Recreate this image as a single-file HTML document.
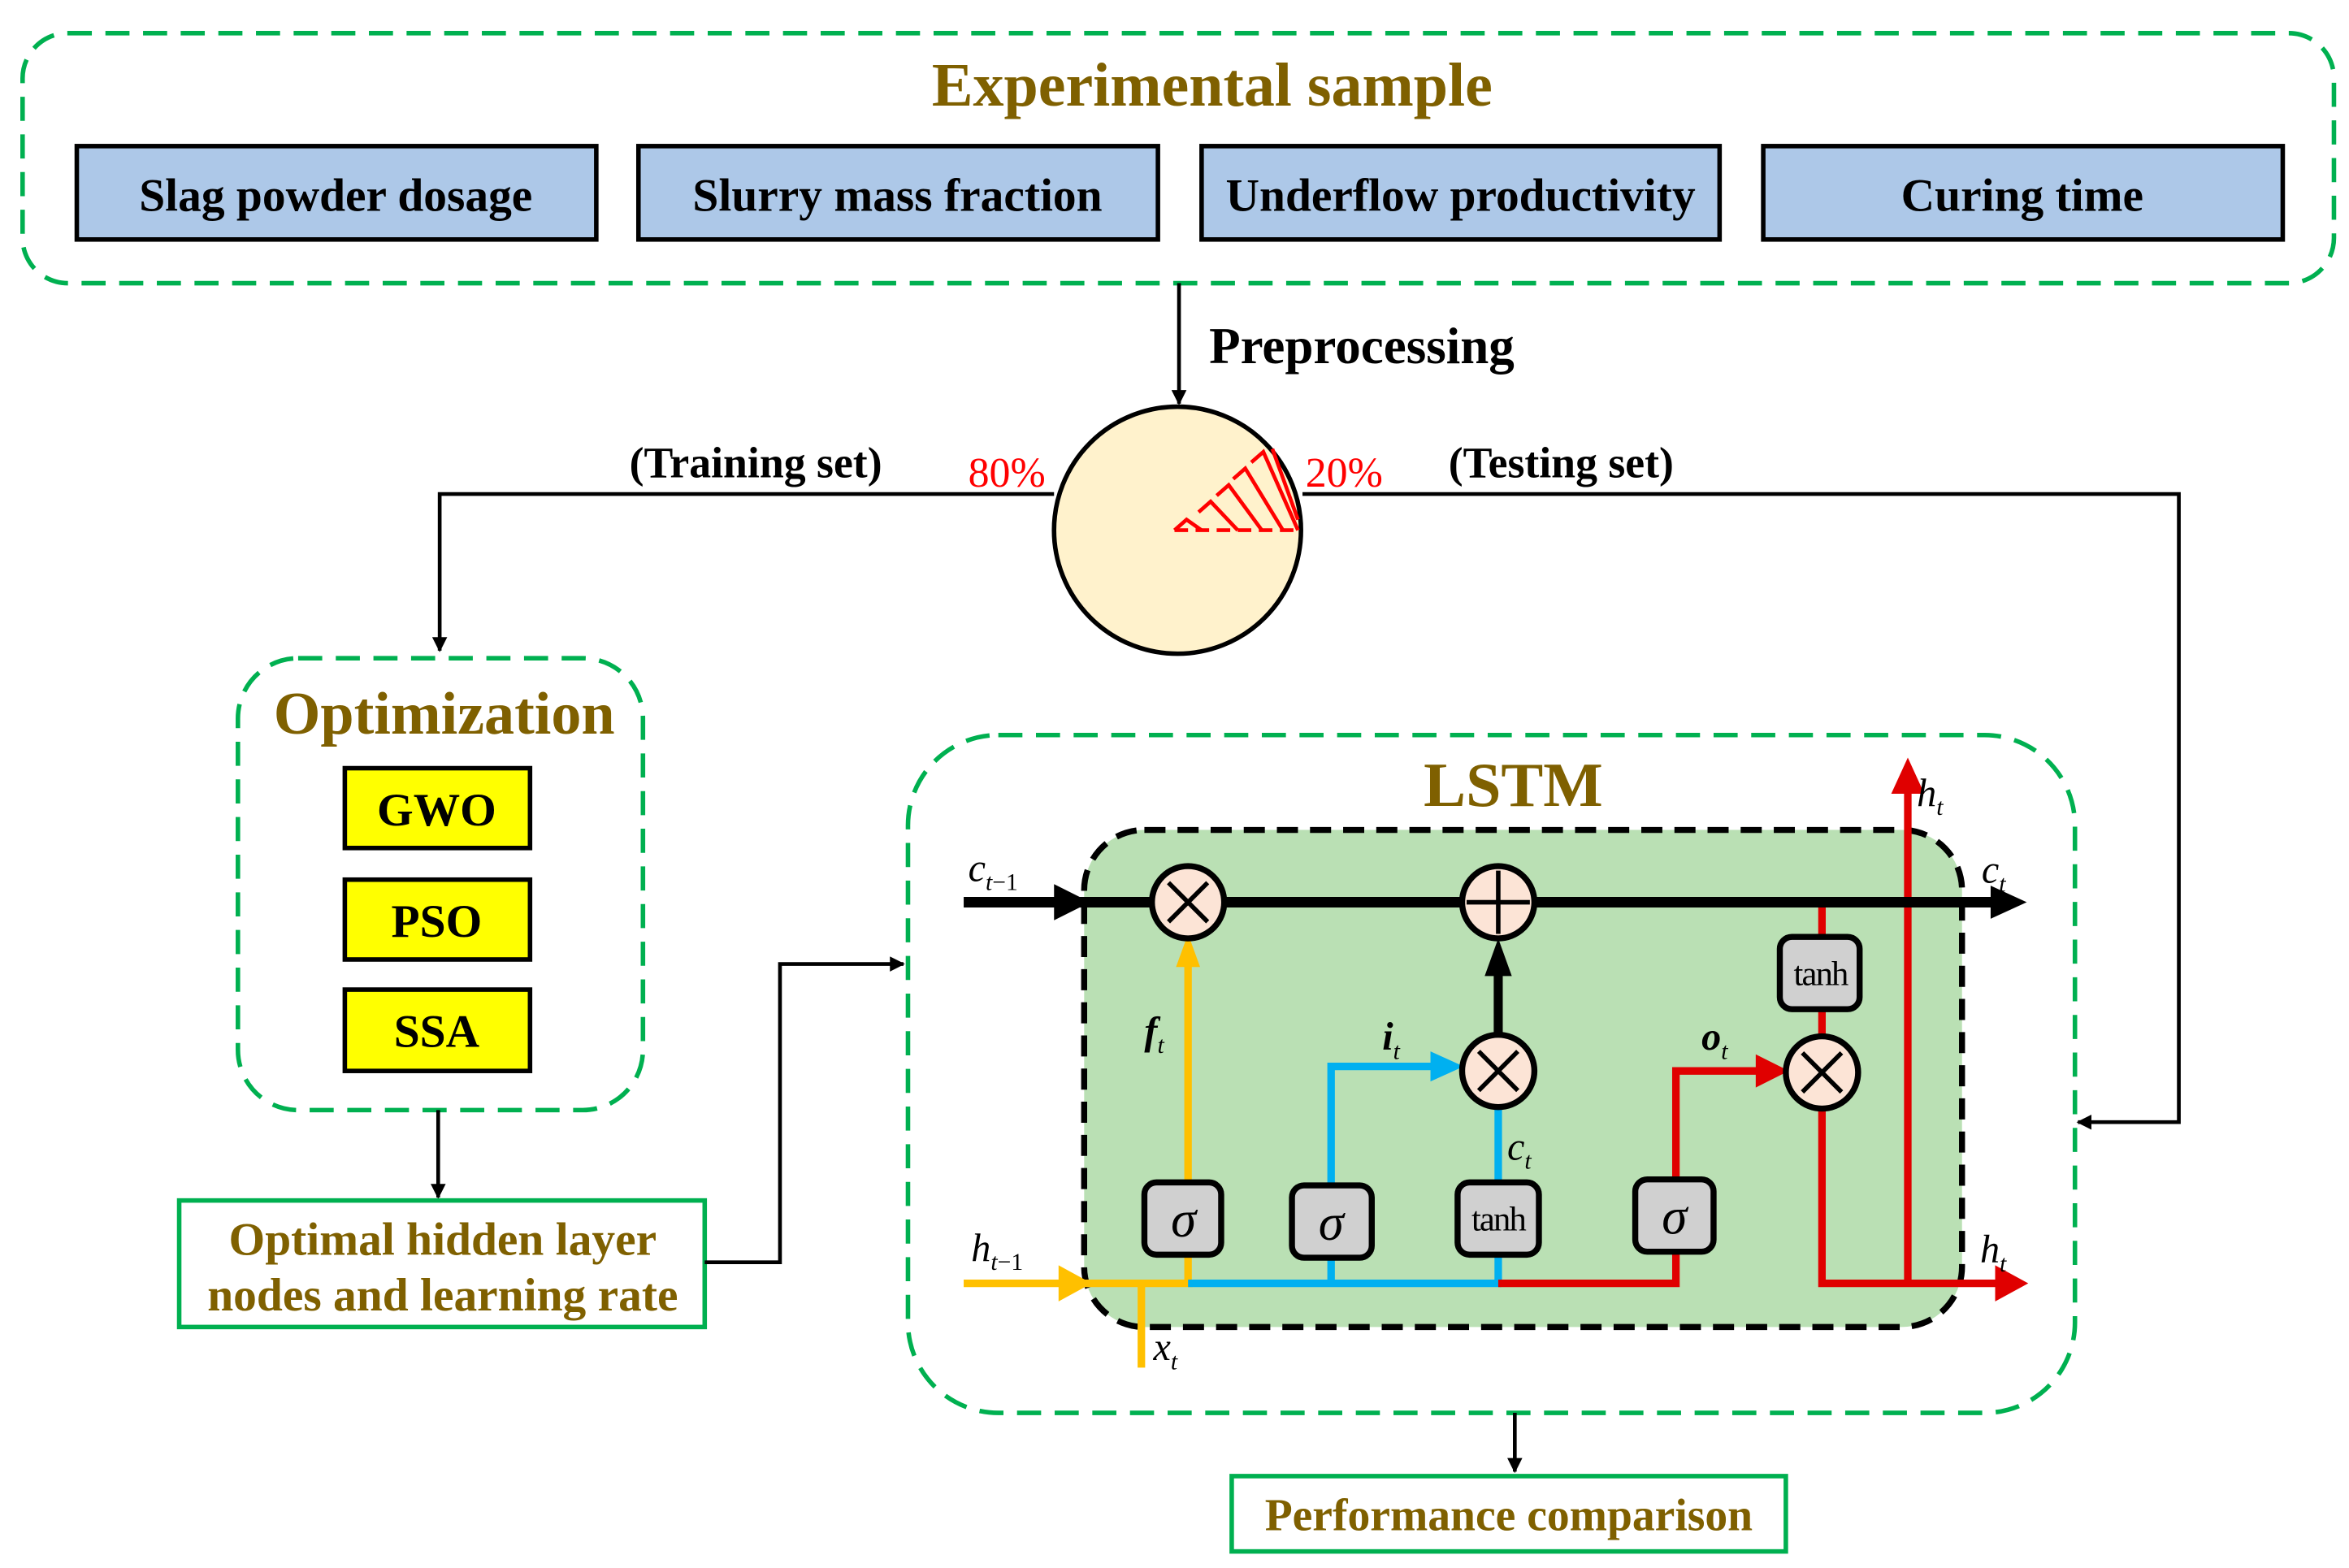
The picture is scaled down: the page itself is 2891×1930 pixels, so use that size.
<!DOCTYPE html>
<html><head><meta charset="utf-8"><style>html,body{margin:0;padding:0;background:#fff}svg{display:block}text{font-family:"Liberation Serif","Times New Roman",serif}</style></head>
<body>
<svg width="2891" height="1930" viewBox="0 0 1560 1041" preserveAspectRatio="none" xmlns="http://www.w3.org/2000/svg">
<defs>
<marker id="ab" markerWidth="10" markerHeight="10" refX="9" refY="5" orient="auto" markerUnits="userSpaceOnUse"><path d="M0,0 L10,5 L0,10z" fill="#000"/></marker>
</defs>
<rect x="15" y="22" width="1535" height="166" rx="30" fill="none" stroke="#00B050" stroke-width="3" stroke-dasharray="16,9"/>
<text x="805" y="70" font-size="41" font-weight="bold" fill="#7F6000" text-anchor="middle">Experimental sample</text>
<g stroke="#000" stroke-width="3" fill="#ADC8E8">
<rect x="51" y="97" width="345" height="62"/><rect x="424" y="97" width="345" height="62"/>
<rect x="798" y="97" width="344" height="62"/><rect x="1171" y="97" width="345" height="62"/>
</g>
<g font-size="31" font-weight="bold" text-anchor="middle">
<text x="223" y="140">Slag powder dosage</text><text x="596" y="140">Slurry mass fraction</text>
<text x="970" y="140">Underflow productivity</text><text x="1343" y="140">Curing time</text>
</g>
<line x1="783" y1="188" x2="783" y2="268" stroke="#000" stroke-width="2.5" marker-end="url(#ab)"/>
<text x="803" y="241" font-size="34" font-weight="bold">Preprocessing</text>
<circle cx="782" cy="352" r="82" fill="#FFF2CC" stroke="#000" stroke-width="3"/>
<g stroke="#FF0000" stroke-width="2.5" fill="none">
<line x1="780" y1="352" x2="864" y2="352" stroke-dasharray="9,5"/>
<polyline points="780,352 788,345 798,352"/><polyline points="796,340 804,333 822,352"/>
<polyline points="808,329 816,322 838,352"/><polyline points="819,318 827,311 852,352"/>
<polyline points="831,307 839,300 862,352"/><line x1="845" y1="298" x2="862" y2="345"/>
</g>
<polyline points="700,328 292,328 292,432" fill="none" stroke="#000" stroke-width="2.5" marker-end="url(#ab)"/>
<polyline points="865,328 1447,328 1447,745 1380,745" fill="none" stroke="#000" stroke-width="2.5" marker-end="url(#ab)"/>
<text x="418" y="317" font-size="29" font-weight="bold">(Training set)</text>
<text x="643" y="323" font-size="28" fill="#FF0000">80%</text>
<text x="867" y="323" font-size="28" fill="#FF0000">20%</text>
<text x="962" y="317" font-size="29" font-weight="bold">(Testing set)</text>
<rect x="158" y="437" width="269" height="300" rx="40" fill="none" stroke="#00B050" stroke-width="3" stroke-dasharray="16,9"/>
<text x="295" y="487" font-size="40" font-weight="bold" fill="#7F6000" text-anchor="middle">Optimization</text>
<g stroke="#000" stroke-width="3" fill="#FFFF00">
<rect x="229" y="510" width="123" height="53"/><rect x="229" y="584" width="123" height="53"/><rect x="229" y="657" width="123" height="54"/>
</g>
<g font-size="31" font-weight="bold" text-anchor="middle">
<text x="290" y="548">GWO</text><text x="290" y="622">PSO</text><text x="290" y="695">SSA</text>
</g>
<line x1="291" y1="737" x2="291" y2="795" stroke="#000" stroke-width="2.5" marker-end="url(#ab)"/>
<rect x="119" y="797" width="349" height="84" fill="#fff" stroke="#00B050" stroke-width="3"/>
<g font-size="31" font-weight="bold" fill="#7F6000" text-anchor="middle">
<text x="294" y="833">Optimal hidden layer</text><text x="294" y="870">nodes and learning rate</text>
</g>
<polyline points="468,838 518,838 518,640 600,640" fill="none" stroke="#000" stroke-width="2.5" marker-end="url(#ab)"/>
<rect x="603" y="488" width="775" height="450" rx="60" fill="none" stroke="#00B050" stroke-width="3" stroke-dasharray="16,9"/>
<text x="1005" y="535" font-size="42" font-weight="bold" fill="#7F6000" text-anchor="middle">LSTM</text>
<rect x="720" y="551" width="583" height="330" rx="40" fill="#BAE0B4" stroke="#000" stroke-width="4" stroke-dasharray="14,8"/>
<g stroke="#FFC000" stroke-width="5" fill="none">
<line x1="640" y1="852" x2="705" y2="852"/><line x1="720" y1="852" x2="792" y2="852"/>
<line x1="789" y1="852" x2="789" y2="640"/><line x1="758" y1="852" x2="758" y2="908"/>
</g>
<path d="M703,840 L725,852 L703,864z" fill="#FFC000"/>
<path d="M781,642 L789,620 L797,642z" fill="#FFC000"/>
<g stroke="#00B0F0" stroke-width="5" fill="none">
<line x1="789" y1="852" x2="997" y2="852"/><polyline points="884,852 884,708 952,708"/>
<line x1="995" y1="852" x2="995" y2="735"/>
</g>
<path d="M950,698 L972,708 L950,718z" fill="#00B0F0"/>
<g stroke="#E00000" stroke-width="5" fill="none">
<polyline points="995,852 1113,852 1113,711 1168,711"/>
<polyline points="1210,601 1210,852 1328,852"/>
<line x1="1267" y1="852" x2="1267" y2="525"/>
</g>
<path d="M1166,700 L1188,711 L1166,722z" fill="#E00000"/>
<path d="M1325,840 L1347,852 L1325,864z" fill="#E00000"/>
<path d="M1256,527 L1267,503 L1278,527z" fill="#E00000"/>
<line x1="640" y1="599" x2="1325" y2="599" stroke="#000" stroke-width="7"/>
<path d="M700,587 L724,599 L700,611z" fill="#000"/>
<path d="M1322,588 L1346,599 L1322,610z" fill="#000"/>
<line x1="995" y1="688" x2="995" y2="645" stroke="#000" stroke-width="6"/>
<path d="M986,648 L995,623 L1004,648z" fill="#000"/>
<g fill="#D0D0D0" stroke="#000" stroke-width="4">
<rect x="760" y="785" width="51" height="48" rx="8"/><rect x="858" y="787" width="53" height="48" rx="8"/>
<rect x="968" y="785" width="54" height="48" rx="8"/><rect x="1086" y="783" width="52" height="48" rx="8"/>
<rect x="1182" y="622" width="53" height="48" rx="8"/>
</g>
<g font-size="34" font-style="italic" text-anchor="middle">
<text x="786" y="821">σ</text><text x="884" y="823">σ</text><text x="1112" y="819">σ</text>
</g>
<g font-size="23" text-anchor="middle" letter-spacing="-1"><text x="995" y="817">tanh</text><text x="1209" y="654">tanh</text></g>
<g fill="#FCE4D6" stroke="#000" stroke-width="4">
<circle cx="789" cy="599" r="24"/><circle cx="995" cy="599" r="24"/><circle cx="995" cy="711" r="24"/><circle cx="1210" cy="712" r="24"/>
</g>
<g stroke="#000" stroke-width="3">
<path d="M776,586 L802,612 M802,586 L776,612"/>
<path d="M995,578 V620 M974,599 H1016"/>
<path d="M982,698 L1008,724 M1008,698 L982,724"/>
<path d="M1197,699 L1223,725 M1223,699 L1197,725"/>
</g>
<g font-style="italic" font-size="26">
<text x="643" y="585">c<tspan font-size="16" dy="6">t</tspan><tspan font-size="16" font-style="normal">−1</tspan></text>
<text x="645" y="837">h<tspan font-size="16" dy="6">t</tspan><tspan font-size="16" font-style="normal">−1</tspan></text>
<text x="766" y="903">x<tspan font-size="16" dy="6">t</tspan></text>
<text x="760" y="693" font-weight="bold">f<tspan font-size="16" dy="6" font-weight="normal">t</tspan></text>
<text x="918" y="697" font-weight="bold">i<tspan font-size="16" dy="6" font-weight="normal">t</tspan></text>
<text x="1001" y="770">c<tspan font-size="16" dy="6">t</tspan></text>
<text x="1130" y="697" font-weight="bold">o<tspan font-size="16" dy="6" font-weight="normal">t</tspan></text>
<text x="1273" y="535">h<tspan font-size="16" dy="6">t</tspan></text>
<text x="1316" y="586">c<tspan font-size="16" dy="6">t</tspan></text>
<text x="1315" y="838">h<tspan font-size="16" dy="6">t</tspan></text>
</g>
<line x1="1006" y1="938" x2="1006" y2="977" stroke="#000" stroke-width="2.5" marker-end="url(#ab)"/>
<rect x="818" y="980" width="368" height="50" fill="#fff" stroke="#00B050" stroke-width="3"/>
<text x="1002" y="1016" font-size="30" font-weight="bold" fill="#7F6000" text-anchor="middle">Performance comparison</text>
</svg>
</body></html>
